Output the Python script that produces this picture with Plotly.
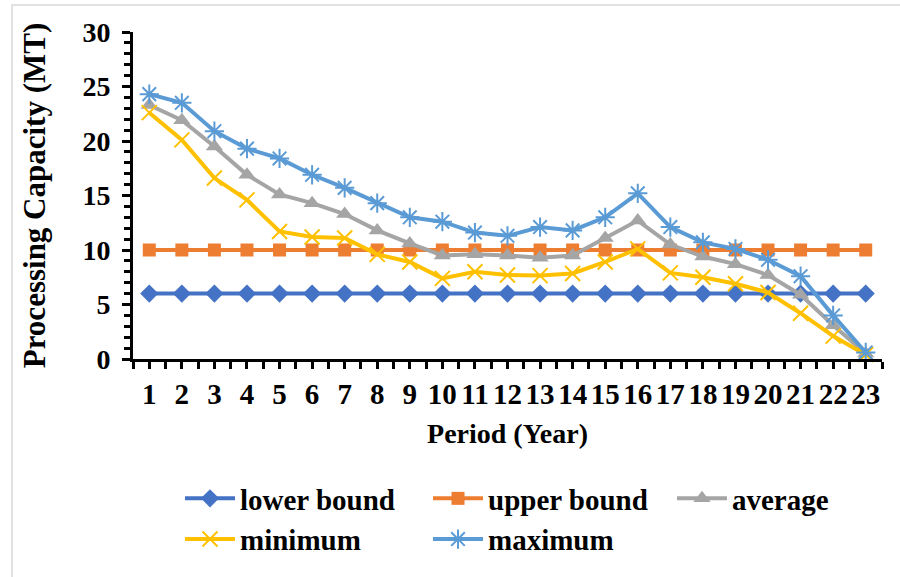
import plotly.graph_objects as go

# Processing capacity per period (MT)
periods = list(range(1, 24))
period_labels = [str(p) for p in periods]

lower_bound = [6, 6, 6, 6, 6, 6, 6, 6, 6, 6, 6, 6, 6, 6, 6, 6, 6, 6, 6, 6, 6, 6, 6]
upper_bound = [10, 10, 10, 10, 10, 10, 10, 10, 10, 10, 10, 10, 10, 10, 10, 10, 10, 10, 10, 10, 10, 10, 10]
average = [23.3, 21.9, 19.5, 16.9, 15.1, 14.3, 13.3, 11.8, 10.6, 9.5, 9.6, 9.5,
           9.3, 9.5, 11.1, 12.7, 10.5, 9.4, 8.7, 7.7, 5.9, 3.1, 0.5]
minimum = [22.6, 20.1, 16.6, 14.6, 11.7, 11.2, 11.1, 9.6, 8.9, 7.4, 8.0, 7.7,
           7.65, 7.85, 8.9, 10.1, 7.9, 7.5, 6.9, 6.1, 4.2, 2.1, 0.4]
maximum = [24.3, 23.5, 20.9, 19.3, 18.4, 16.9, 15.7, 14.3, 13.0, 12.6, 11.6, 11.3,
           12.1, 11.8, 13.0, 15.2, 12.1, 10.7, 10.1, 9.1, 7.6, 4.0, 0.6]

FONT = "Liberation Serif"

# (name, values, colour, marker, legend column)
series = [
    ("lower bound", lower_bound, "#4472C4", dict(symbol="diamond", size=14), "legend"),
    ("upper bound", upper_bound, "#ED7D31", dict(symbol="square", size=13), "legend2"),
    ("average", average, "#A5A5A5", dict(symbol="triangle-up", size=15), "legend3"),
    ("minimum", minimum, "#FFC000", dict(symbol="x-thin-open", size=15,
                                          line=dict(width=2, color="#FFC000")), "legend"),
    ("maximum", maximum, "#5B9BD5", dict(symbol="asterisk-open", size=16,
                                          line=dict(width=2, color="#5B9BD5")), "legend2"),
]

fig = go.Figure()
for name, values, color, marker, leg in series:
    m = dict(color=color)
    m.update(marker)
    fig.add_trace(go.Scatter(
        x=periods, y=values, name=name, mode="lines+markers",
        line=dict(color=color, width=4), marker=m, cliponaxis=False,
        legend=leg,
    ))

W, H = 900, 577
ml, mr, mt, mb = 133, 18, 32, 218
pw, ph = W - ml - mr, H - mt - mb


def legend_at(px_left, px_top):
    return dict(
        orientation="v", x=(px_left - ml) / pw, xanchor="left",
        y=(H - mb - px_top) / ph, yanchor="top",
        itemwidth=50, tracegroupgap=0,
        font=dict(family=FONT, size=29, color="black", weight="bold"),
        bgcolor="rgba(0,0,0,0)",
    )


fig.update_layout(
    width=W, height=H,
    margin=dict(l=ml, r=mr, t=mt, b=mb),
    paper_bgcolor="white", plot_bgcolor="white",
    font=dict(family=FONT, size=28, color="black", weight="bold"),
    showlegend=True,
    legend=legend_at(180, 473),
    legend2=legend_at(428, 473),
    legend3=legend_at(672, 473),
    xaxis=dict(
        range=[periods[0] - 0.5, periods[-1] + 0.5],
        tickmode="array", tickvals=periods, ticktext=period_labels, tickangle=0,
        ticks="outside", ticklen=7, tickwidth=3, tickcolor="black",
        minor=dict(tickmode="array", tickvals=[p - 0.5 for p in periods] + [periods[-1] + 0.5],
                   ticks="outside", ticklen=7, tickwidth=3, tickcolor="black"),
        showline=True, linecolor="black", linewidth=3,
        showgrid=False, zeroline=False,
        tickfont=dict(family=FONT, size=29, weight="bold"),
        title=dict(text="Period (Year)", standoff=15,
                   font=dict(family=FONT, size=28, weight="bold")),
    ),
    yaxis=dict(
        range=[0, 30], tickmode="linear", tick0=0, dtick=5,
        ticks="outside", ticklen=8, tickwidth=3, tickcolor="black",
        minor=dict(dtick=1, ticks="outside", ticklen=6, tickwidth=3, tickcolor="black"),
        showline=True, linecolor="black", linewidth=3,
        showgrid=False, zeroline=False,
        tickfont=dict(family=FONT, size=28, weight="bold"),
        ticklabelstandoff=6,
        title=dict(text="Processing Capacity (MT)", standoff=28,
                   font=dict(family=FONT, size=31, weight="bold")),
    ),
    shapes=[dict(
        type="rect", xref="paper", yref="paper",
        x0=(12 - ml) / pw, x1=(W + 10 - ml) / pw,
        y0=(H - mb - (H + 10)) / ph, y1=(H - mb - 5) / ph,
        line=dict(color="#D9D9D9", width=1.5), fillcolor="rgba(0,0,0,0)", layer="below",
    )],
)

fig.write_html("out.html")
